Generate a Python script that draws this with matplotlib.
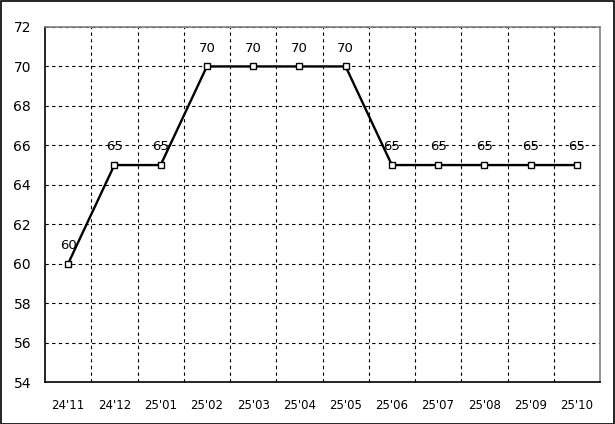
import matplotlib
matplotlib.use("Agg")
import matplotlib.pyplot as plt
from matplotlib.patches import Rectangle

categories = ["24'11", "24'12", "25'01", "25'02", "25'03", "25'04", "25'05",
              "25'06", "25'07", "25'08", "25'09", "25'10"]
values = [60, 65, 65, 70, 70, 70, 70, 65, 65, 65, 65, 65]
yticks = [54, 56, 58, 60, 62, 64, 66, 68, 70, 72]

fig = plt.figure(figsize=(6.15, 4.24), dpi=100)
ax = fig.add_axes([45/615, 1 - 382/424, 555/615, 355/424])

x = list(range(len(categories)))
ax.plot(x, values, color='black', linewidth=1.7, marker='s', markersize=4.2,
        markerfacecolor='white', markeredgecolor='black', markeredgewidth=1.0, zorder=3)
for xi, v in zip(x, values):
    ax.annotate(str(v), (xi, v), xytext=(0, 8.5), textcoords='offset points',
                ha='center', va='bottom', fontsize=9.5, zorder=4)

ax.set_xlim(-0.5, len(categories) - 0.5)
ax.set_ylim(54, 72)
ax.set_yticks(yticks)
ax.set_yticklabels([str(t) for t in yticks], fontsize=10)
ax.set_xticks(x)
ax.set_xticklabels(categories, fontsize=8.5)
ax.set_xticks([i + 0.5 for i in range(len(categories) - 1)], minor=True)
ax.tick_params(axis='both', which='both', length=0)
ax.tick_params(axis='x', pad=12)
ax.tick_params(axis='y', pad=10)
ax.grid(True, axis='y', which='major', color='black', linestyle=(0, (3, 3)), linewidth=0.8)
ax.grid(True, axis='x', which='minor', color='black', linestyle=(0, (3, 3)), linewidth=0.8)
ax.grid(False, axis='x', which='major')
for s in ['left', 'bottom']:
    ax.spines[s].set_color('black')
    ax.spines[s].set_linewidth(1.2)
for s in ['top', 'right']:
    ax.spines[s].set_color('gray')
    ax.spines[s].set_linewidth(1.2)

fig.patches.append(Rectangle((0.5/615, 0.5/424), 613.5/615, 422.5/424, transform=fig.transFigure,
                             fill=False, edgecolor='black', linewidth=1.2))
fig.savefig("out.png", dpi=100)
